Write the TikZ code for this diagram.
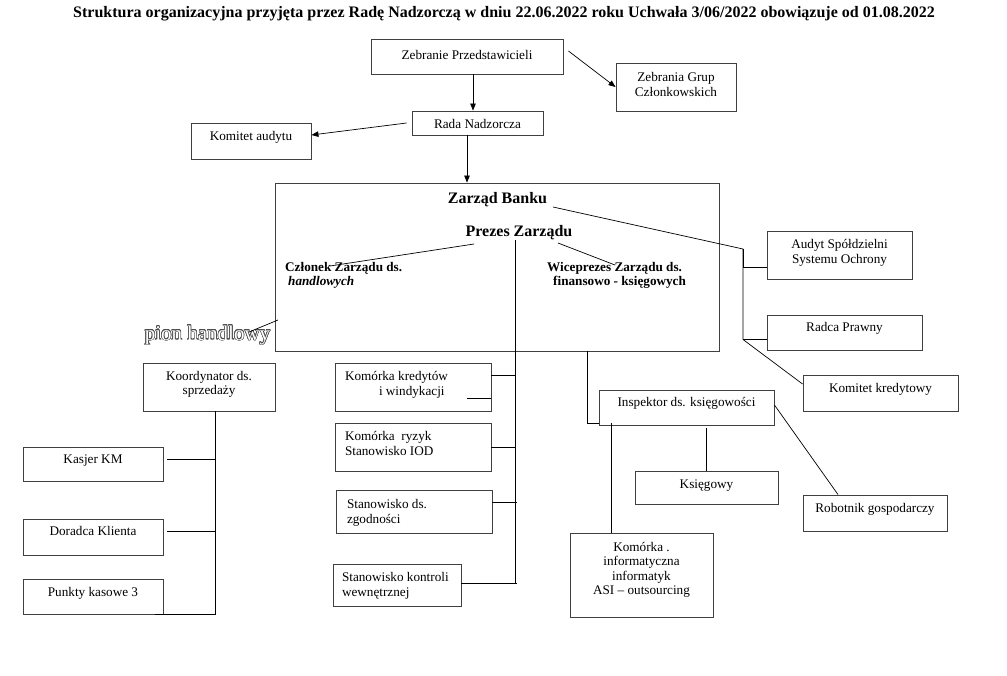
\documentclass[tikz,border=0pt]{standalone}
\usepackage{fontspec}
\setmainfont{Liberation Serif}
\usepackage[copies]{contour}
\usetikzlibrary{arrows.meta,calc}
\newcommand\fsn{\fontsize{13.2}{14.5}\selectfont}
\newcommand\fsb{\fontsize{16}{18}\selectfont\bfseries}
\newcommand\btxt[2]{\raisebox{#1pt}[\height][\depth]{\begin{tabular}{@{}c@{}}#2\end{tabular}}}
\newcommand\btxl[3]{\raisebox{#1pt}[\height][\depth]{\begin{tabular}{@{}p{#2pt}@{}}#3\end{tabular}}}
\begin{document}
\begin{tikzpicture}[x=1pt,y=-1pt,
  box/.style={draw=black!75, line width=0.9pt, inner sep=0pt, font=\fsn, fill=white},
  ln/.style={draw=black, line width=0.7pt},
  arr/.style={ln, -{Triangle[length=7pt,width=5.5pt]}},
  txt/.style={inner sep=0pt}]
\useasboundingbox (0,0) rectangle (1007,675);

% title
\node[txt, font=\fontsize{16}{18}\selectfont\bfseries, anchor=base] (title) at (504,17.5)
  {Struktura organizacyjna przyjęta przez Radę Nadzorczą w dniu 22.06.2022 roku Uchwała 3/06/2022 obowiązuje od 01.08.2022};

% big box
\node[box, minimum width=444pt, minimum height=168pt] (zb) at (497,267) {};

% boxes
\node[box, minimum width=192pt, minimum height=35pt] (zp) at (467,56.5) {\btxt{0}{Zebranie Przedstawicieli}};
\node[box, minimum width=120pt, minimum height=48pt] (zgc) at (676,87) {\btxt{1}{Zebrania Grup\\Członkowskich}};
\node[box, minimum width=131pt, minimum height=24pt] (rn) at (477.5,123) {\btxt{-2.5}{Rada Nadzorcza}};
\node[box, minimum width=120pt, minimum height=36pt] (ka) at (251,141) {\btxt{3.5}{Komitet audytu}};
\node[box, minimum width=145pt, minimum height=48pt] (asso) at (839.5,255) {\btxt{2}{Audyt Spółdzielni\\Systemu Ochrony}};
\node[box, minimum width=155pt, minimum height=35pt] (rp) at (844.5,332.5) {\btxt{4}{Radca Prawny}};
\node[box, minimum width=155pt, minimum height=36pt] (kk) at (880.5,393) {\btxt{3.5}{Komitet kredytowy}};
\node[box, minimum width=132pt, minimum height=48pt] (kds) at (209,387) {\btxt{2.5}{Koordynator ds.\\sprzedaży}};
\node[box, minimum width=140pt, minimum height=34pt] (kasjer) at (93,464) {\btxt{3.5}{Kasjer KM}};
\node[box, minimum width=140pt, minimum height=36pt] (doradca) at (93,537) {\btxt{4.5}{Doradca Klienta}};
\node[box, minimum width=140pt, minimum height=35pt] (punkty) at (93,596.5) {\btxt{3}{Punkty kasowe 3}};
\node[box, minimum width=156pt, minimum height=48pt] (kkw) at (413,387) {\btxl{2}{136}{Komórka kredytów\\\hspace*{34pt}i windykacji}};
\node[box, minimum width=156pt, minimum height=48pt] (kr) at (413,447) {\btxl{2}{136}{Komórka\ \ ryzyk\\Stanowisko IOD}};
\node[box, minimum width=156pt, minimum height=43pt] (sz) at (414,511.5) {\btxl{-1.5}{134}{Stanowisko ds.\\zgodności}};
\node[box, minimum width=128pt, minimum height=42pt] (skw) at (397,585) {\btxl{-1}{110}{Stanowisko kontroli\\wewnętrznej}};
\node[box, minimum width=175pt, minimum height=35pt] (ik) at (686.5,407.5) {\btxt{4}{Inspektor ds. księgowości}};
\node[box, minimum width=143pt, minimum height=33pt] (ksieg) at (706.5,487.5) {\btxt{2}{Księgowy}};
\node[box, minimum width=144pt, minimum height=36pt] (robot) at (875,513) {\btxt{3.5}{Robotnik gospodarczy}};
\node[box, minimum width=143pt, minimum height=84pt] (kinf) at (641.5,575) {\btxt{5}{Komórka .\\informatyczna\\informatyk\\ASI – outsourcing}};

% texts inside the board box
\node[txt, font=\fsb, anchor=base] (zbt) at (497.5,203.3) {Zarząd Banku};
\node[txt, font=\fsb, anchor=base] (pzt) at (519,236.3) {Prezes Zarządu};
\node[txt, font=\fsn\bfseries, anchor=base west] (czt) at (285,271.3)
  {\begin{tabular}[t]{@{}l@{}}Członek Zarządu ds.\\\hspace*{3pt}\textit{handlowych}\end{tabular}};
\node[txt, font=\fsn\bfseries, anchor=base west] (wzt) at (547,271.3)
  {\begin{tabular}[t]{@{}l@{}}Wiceprezes Zarządu ds.\\\hspace*{6pt}finansowo - księgowych\end{tabular}};

% pion handlowy
\contourlength{0.6pt}
\node[txt, font=\fontsize{21}{23}\selectfont, anchor=base] (ph) at (207.5,340)
  {\contour{black!70}{\textcolor{white}{pion handlowy}}};

% coordinates
\coordinate (zbl) at (553,207);
\coordinate (rb1) at (743,249);
\coordinate (rb2) at (743,339.5);
\coordinate (p1) at (474,244);
\coordinate (c1) at (330,266);
\coordinate (p2) at (558,243);
\coordinate (w1) at (615,265);
\coordinate (cb1) at (515.5,240);
\coordinate (cb2) at (515.5,583);
\coordinate (ph1) at (249,332);
\coordinate (ph2) at (278,320);

% top connectors
\draw[arr] ([xshift=6pt]zp.south) -- ([xshift=6pt]zp.south |- rn.north);
\draw[arr] ([shift={(5pt,5.5pt)}]zp.east) -- (zgc.west);
\draw[arr] ([xshift=-5pt]rn.west) -- ([yshift=6pt]ka.east);
\draw[arr] ([xshift=-10.5pt]rn.south) -- ([xshift=-10.5pt]rn.south |- zb.north);

% right bus
\draw[ln] (zbl) -- (rb1) -- (rb2);
\draw[ln] ([yshift=-12pt]asso.west) -| (rb1);
\draw[ln] (rp.west |- rb2) -- (rb2);
\draw[ln] (rb2) -- ([yshift=9pt]kk.west);

% board internal lines
\draw[ln] (p1) -- (c1);
\draw[ln] (p2) -- (w1);
\draw[ln] (cb1) -- (cb2);
\draw[ln] (ph1) -- (ph2);

% centre branches
\draw[ln] ([yshift=12pt]kkw.east) -- ++(24.5pt,0);
\draw[ln] ([shift={(-24pt,-11.5pt)}]kkw.east) -- ([yshift=-11.5pt]kkw.east);
\draw[ln] (kr.east) -- ++(24.5pt,0);
\draw[ln] ([yshift=9.5pt]sz.east) -- ++(25pt,0);
\draw[ln] ([yshift=2pt]skw.east) -- ++(56pt,0);

% accounting
\draw[ln] ([xshift=90pt]zb.south) |- ([yshift=-15.5pt]ik.west);
\draw[ln] ([xshift=-30.5pt]kinf.north) -- ++(0,110pt);
\draw[ln] (ksieg.north) -- ++(0,43pt);
\draw[ln] ([yshift=2.5pt]ik.east) -- ([xshift=-37pt]robot.north);

% sales
\draw[ln] ([xshift=6pt]kds.south) -- ++(0,-203pt) -- ++(-60pt,0);
\draw[ln] ([shift={(4pt,5pt)}]kasjer.east) -- ++(48pt,0);
\draw[ln] ([shift={(4pt,6pt)}]doradca.east) -- ++(48pt,0);
\end{tikzpicture}
\end{document}
